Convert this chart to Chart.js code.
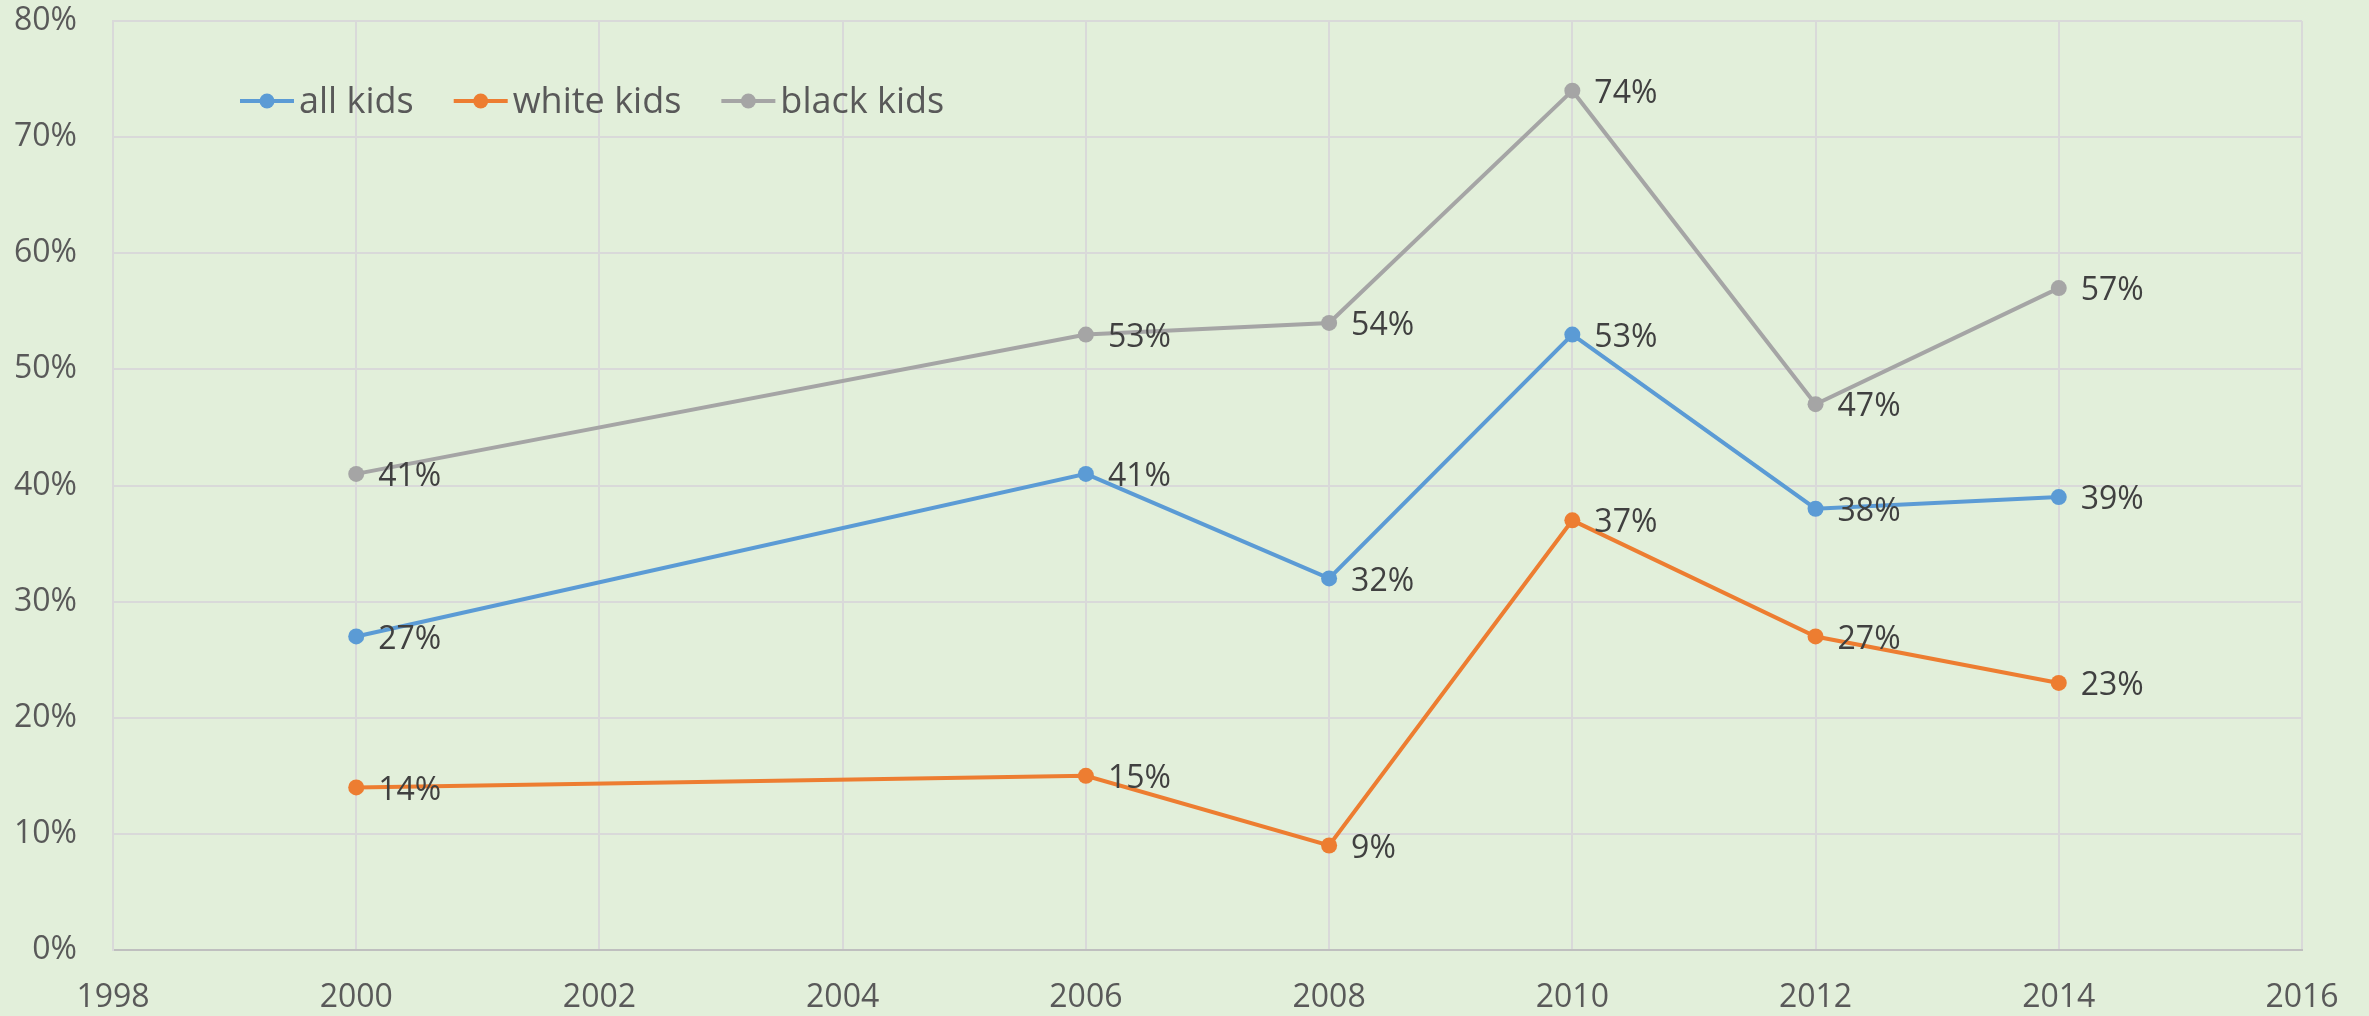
<!DOCTYPE html>
<html>
<head>
<meta charset="utf-8">
<script src="https://cdn.jsdelivr.net/npm/chart.js@4/dist/chart.umd.min.js"></script>
<style>
html, body { margin: 0; padding: 0; background: #E2EFDA; }
#wrap { width: 2369px; height: 1016px; }
</style>
</head>
<body>
<div id="wrap"><canvas id="myChart" width="2369" height="1016"></canvas></div>
<script>
// values (percent)
const years = [2000, 2006, 2008, 2010, 2012, 2014];
const allKids = [27, 41, 32, 53, 38, 39];
const whiteKids = [14, 15, 9, 37, 27, 23];
const blackKids = [41, 53, 54, 74, 47, 57];

const seriesNames = ['all kids', 'white kids', 'black kids'];
const seriesColors = ['#5B9BD5', '#ED7D31', '#A5A5A5'];
const seriesValues = [allKids, whiteKids, blackKids];

const FONT = '"Open Sans", "DejaVu Sans", sans-serif';

function toPoints(values) {
    return values.map((v, i) => ({ x: years[i], y: v }));
}

const bgPlugin = {
    id: 'bg',
    beforeDraw(chart) {
        const c = chart.ctx;
        c.save();
        c.fillStyle = '#E2EFDA';
        c.fillRect(0, 0, chart.width, chart.height);
        c.restore();
    }
};

// labels to the right of each point, like Excel data labels
const labelPlugin = {
    id: 'pointLabels',
    afterDatasetsDraw(chart) {
        const c = chart.ctx;
        c.save();
        c.font = '32px ' + FONT;
        c.fillStyle = '#404040';
        c.textAlign = 'left';
        c.textBaseline = 'middle';
        chart.data.datasets.forEach((ds, i) => {
            const meta = chart.getDatasetMeta(i);
            meta.data.forEach((pt, j) => {
                c.fillText(ds.data[j].y + '%', pt.x + 22, pt.y + 3);
            });
        });
        c.restore();
    }
};

const legendPlugin = {
    id: 'insideLegend',
    afterDraw(chart) {
        const c = chart.ctx;
        c.save();
        c.font = '36px ' + FONT;
        c.textBaseline = 'middle';
        c.textAlign = 'left';
        let x = 240;
        const y = 101;
        chart.data.datasets.forEach((ds) => {
            c.strokeStyle = ds.borderColor;
            c.lineWidth = 4;
            c.beginPath();
            c.moveTo(x, y);
            c.lineTo(x + 54, y);
            c.stroke();
            c.fillStyle = ds.borderColor;
            c.beginPath();
            c.arc(x + 27, y, 7.5, 0, Math.PI * 2);
            c.fill();
            c.fillStyle = '#595959';
            c.fillText(ds.label, x + 59, y + 2);
            x += 59 + c.measureText(ds.label).width + 40;
        });
        c.restore();
    }
};

// keep the plot box where the layout padding puts it
function noLabelPadding(scale) {
    scale.paddingTop = 0;
    scale.paddingBottom = 0;
    scale.paddingLeft = 0;
    scale.paddingRight = 0;
}

const ctx = document.getElementById('myChart');

new Chart(ctx, {
    type: 'line',
    data: {
        datasets: seriesNames.map((name, i) => ({
            label: name,
            data: toPoints(seriesValues[i]),
            borderColor: seriesColors[i],
            backgroundColor: seriesColors[i],
            borderWidth: 4,
            pointRadius: 8,
            pointHoverRadius: 8,
            pointBorderWidth: 0,
            tension: 0,
            fill: false
        }))
    },
    options: {
        responsive: false,
        animation: false,
        devicePixelRatio: 1,
        layout: {
            padding: { top: 21, right: 67, left: 0, bottom: 0 }
        },
        scales: {
            x: {
                type: 'linear',
                min: 1998,
                max: 2016,
                ticks: {
                    stepSize: 2,
                    padding: 29,
                    color: '#595959',
                    font: { family: FONT, size: 32 },
                    callback: (v) => String(v)
                },
                grid: {
                    color: '#D9D9D9',
                    lineWidth: 2,
                    drawTicks: false
                },
                border: { color: '#BFBFBF', width: 2 },
                afterFit: (scale) => { scale.height = 66; noLabelPadding(scale); }
            },
            y: {
                min: 0,
                max: 80,
                ticks: {
                    stepSize: 10,
                    padding: 36,
                    color: '#595959',
                    font: { family: FONT, size: 32 },
                    callback: (v) => v + '%'
                },
                grid: {
                    color: '#D9D9D9',
                    lineWidth: 2,
                    drawTicks: false
                },
                border: { color: '#D9D9D9', width: 2 },
                afterFit: (scale) => { scale.width = 113; noLabelPadding(scale); }
            }
        },
        plugins: {
            legend: { display: false },
            tooltip: { enabled: false }
        }
    },
    plugins: [bgPlugin, labelPlugin, legendPlugin]
});
</script>
</body>
</html>
